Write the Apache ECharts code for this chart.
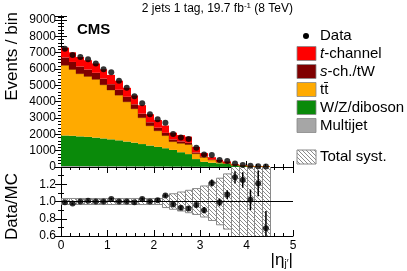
<!DOCTYPE html>
<html><head><meta charset="utf-8">
<script src="https://cdn.jsdelivr.net/npm/echarts@6/dist/echarts.min.js"></script>
<style>html,body{margin:0;padding:0;background:#fff}#c{width:407px;height:271px}</style>
</head><body><div id="c"></div>
<script>
// ---- data ----
const binEdges = [0, 0.1667, 0.3333, 0.5, 0.6667, 0.8333, 1, 1.1667, 1.3333, 1.5, 1.6667, 1.8333, 2, 2.1667, 2.3333, 2.5, 2.6667, 2.8333, 3, 3.1667, 3.3333, 3.5, 3.6667, 3.8333, 4, 4.1667, 4.3333, 4.5];
const multijet = [60,60,55,55,50,50,45,45,40,40,35,35,30,30,25,25,20,15,12,10,8,6,5,3,2,1,1];
const wzDiboson = [1870,1850,1820,1790,1750,1700,1650,1590,1520,1450,1370,1280,1200,1120,1020,880,770,470,305,250,220,190,100,60,35,20,18];
const ttbar = [4300,4065,3840,3705,3570,3285,3020,2765,2435,2075,1615,1210,990,775,510,545,585,330,278,168,70,28,7,4,8,5,4];
const sChTW = [480,460,440,420,400,380,355,330,305,275,245,215,185,165,135,115,105,75,45,32,22,16,8,5,3,2,1];
const tChannel = [600,590,580,570,570,570,570,560,550,540,520,490,470,450,410,390,380,340,210,140,120,100,45,28,20,12,12];
const dataCounts = [7237,6856,6735,6605,6340,5985,5809,5290,4850,4336,3899,3230,2918,2718,2027,1812,1711,1181,765,729,436,367,211,125,69,48,25];
const ratio = [0.99,0.976,1.0,1.01,1.0,1.0,1.03,1.0,1.0,0.99,1.03,1.0,1.015,1.07,0.965,0.927,0.92,0.96,0.9,1.215,0.99,1.08,1.28,1.25,1.02,1.21,0.69];
const ratioErr = [0.012,0.012,0.012,0.012,0.013,0.013,0.013,0.014,0.015,0.016,0.017,0.018,0.02,0.021,0.023,0.025,0.026,0.03,0.036,0.04,0.045,0.05,0.07,0.09,0.12,0.15,0.2];
const systRel = [0.035,0.035,0.035,0.035,0.035,0.035,0.035,0.035,0.035,0.035,0.035,0.035,0.035,0.07,0.09,0.11,0.13,0.15,0.18,0.22,0.27,0.32,0.6,0.6,0.6,0.6,0.6];
const ratioTicks = [0.6,0.8,1.0,1.2];

// ---- build ----
const nb = binEdges.length - 1;
const comps = [
  {name:'Multijet', vals:multijet, color:'#a6a6a6', edge:null},
  {name:'W/Z/diboson', vals:wzDiboson, color:'#0a8a0a', edge:null},
  {name:'tt', vals:ttbar, color:'#ffaa00', edge:'#c27a00'},
  {name:'s-ch./tW', vals:sChTW, color:'#800000', edge:null},
  {name:'t-channel', vals:tChannel, color:'#ff0000', edge:null}
];
const cum = new Array(nb).fill(0);
const stackSeries = comps.map((c, ci) => {
  const items = [];
  for (let i = 0; i < nb; i++) {
    const b = cum[i], t = b + c.vals[i];
    items.push([binEdges[i], binEdges[i+1], b, t]);
    cum[i] = t;
  }
  const tops = items.map(d => d[3]);
  return {
    type:'custom', name:c.name, xAxisIndex:0, yAxisIndex:0, clip:true, z:2+ci,
    data: items,
    renderItem(params, api) {
      const i = params.dataIndex;
      const p0 = api.coord([api.value(0), api.value(3)]);
      const p1 = api.coord([api.value(1), api.value(2)]);
      const x0 = Math.round(p0[0]), x1 = Math.round(p1[0]);
      const children = [{type:'rect', shape:{x:x0, y:p0[1], width:x1-x0, height:p1[1]-p0[1]}, style:{fill:c.color}}];
      if (c.edge) {
        children.push({type:'line', shape:{x1:x0, y1:p0[1], x2:x1, y2:p0[1]}, style:{stroke:c.edge, lineWidth:1}});
        if (i > 0) {
          const pp = api.coord([api.value(0), tops[i-1]]);
          children.push({type:'line', shape:{x1:x0, y1:pp[1], x2:x0, y2:p0[1]}, style:{stroke:c.edge, lineWidth:1}});
        }
      }
      return {type:'group', children};
    }
  };
});

const centers = [];
for (let i = 0; i < nb; i++) centers.push((binEdges[i] + binEdges[i+1]) / 2);

// hatch pattern
const pc = document.createElement('canvas'); pc.width = 4; pc.height = 4;
const g = pc.getContext('2d');
g.fillStyle = '#ffffff'; g.fillRect(0,0,4,4);
g.strokeStyle = '#8a8a8a'; g.lineWidth = 1;
g.beginPath(); g.moveTo(-1,-1); g.lineTo(5,5); g.moveTo(-1,3); g.lineTo(1,5); g.moveTo(3,-1); g.lineTo(5,1); g.stroke();
const hatch = {image: pc, repeat: 'repeat'};

const font = 'Liberation Sans, Arial, Helvetica, sans-serif';
const axisLine = {show:true, lineStyle:{color:'#000', width:1}};
function xAx(grid, pos, labels) {
  return {type:'value', gridIndex:grid, position:pos, min:0, max:5, interval:1,
    axisLine, splitLine:{show:false},
    axisTick:{show:true, inside:true, length:6, lineStyle:{color:'#000'}},
    minorTick:{show:true, splitNumber:5, length:3, lineStyle:{color:'#000'}},
    axisLabel:{show:labels, color:'#000', fontSize:12, fontFamily:font, margin:4}};
}
function yAx(grid, pos, labels, min, max, interval, minor, fmt) {
  return {type:'value', gridIndex:grid, position:pos, min, max, interval,
    axisLine, splitLine:{show:false},
    axisTick:{show:true, inside:true, length:6, lineStyle:{color:'#000'}},
    minorTick:{show:true, splitNumber:minor, length:3, lineStyle:{color:'#000'}},
    axisLabel:{show:labels, color:'#000', fontSize:12, fontFamily:font, margin:5, formatter:fmt}};
}

const legendY = [36, 53.5, 71.5, 89.5, 107.5, 125.5, 157];
const legendItems = [
  {color:'#ff0000', text:'{i|t}-channel'},
  {color:'#800000', text:'{i|s}-ch./tW'},
  {color:'#ffaa00', text:'tt\u0304'},
  {color:'#0a8a0a', text:'W/Z/diboson'},
  {color:'#a6a6a6', text:'Multijet'}
];
const graphics = [];
graphics.push({type:'circle', shape:{cx:306, cy:legendY[0], r:3}, style:{fill:'#000'}});
graphics.push({type:'text', x:320, y:legendY[0], style:{text:'Data', font:'15px '+font, fill:'#000', textVerticalAlign:'middle'}});
legendItems.forEach((it, k) => {
  const y = legendY[k+1];
  graphics.push({type:'rect', shape:{x:297, y:y-7, width:19, height:14}, style:{fill:it.color, stroke:'#888', lineWidth:0.8}});
  graphics.push({type:'text', x:320, y:y, style:{text:it.text, rich:{i:{fontStyle:'italic', fontSize:15, fontFamily:font}}, font:'15px '+font, fill:'#000', textVerticalAlign:'middle'}});
});
graphics.push({type:'rect', shape:{x:297, y:legendY[6]-7, width:19, height:14}, style:{fill:hatch, stroke:'#888', lineWidth:1}});
graphics.push({type:'text', x:320, y:legendY[6], style:{text:'Total syst.', font:'15px '+font, fill:'#000', textVerticalAlign:'middle'}});
// titles
graphics.push({type:'text', x:293, y:9, style:{text:'2 jets 1 tag, 19.7 fb{s|-1} (8 TeV)', rich:{s:{fontSize:8, verticalAlign:'top', padding:[0,0,6,0], fontFamily:font}}, font:'12px '+font, fill:'#000', textAlign:'right', textVerticalAlign:'middle'}});
graphics.push({type:'text', x:77, y:30, style:{text:'CMS', font:'bold 15px '+font, fill:'#000', textVerticalAlign:'middle'}});
graphics.push({type:'text', x:12, y:12, rotation:Math.PI/2, style:{text:'Events / bin', font:'17px '+font, fill:'#000', textAlign:'right', textVerticalAlign:'middle'}});
graphics.push({type:'text', x:12, y:173, rotation:Math.PI/2, style:{text:'Data/MC', font:'17px '+font, fill:'#000', textAlign:'right', textVerticalAlign:'middle'}});
graphics.push({type:'text', x:293, y:260, style:{text:'|\u03b7{s|j\u2032}|', rich:{s:{fontSize:10, padding:[8,0,0,0], fontFamily:font}}, font:'17px '+font, fill:'#000', textAlign:'right', textVerticalAlign:'middle'}});

const chart = echarts.init(document.getElementById('c'), null, {renderer:'canvas'});
chart.setOption({
  animation:false,
  backgroundColor:'#fff',
  grid:[
    {left:61, right:114, top:16, height:151},
    {left:61, right:114, top:167, height:69}
  ],
  xAxis:[xAx(0,'bottom',false), xAx(0,'top',false), xAx(1,'bottom',true), xAx(1,'top',false)],
  yAxis:[
    yAx(0,'left',true,0,9250,1000,5,v => (v % 1000 === 0 ? String(v) : '')),
    yAx(0,'right',false,0,9250,1000,5),
    yAx(1,'left',true,0.6,1.4,0.2,2,v => (ratioTicks.some(t => Math.abs(t-v) < 1e-6) ? v.toFixed(1) : '')),
    yAx(1,'right',false,0.6,1.4,0.2,2)
  ],
  graphic: graphics,
  series: [
    ...stackSeries,
    {type:'scatter', xAxisIndex:0, yAxisIndex:0, z:10, symbol:'circle', symbolSize:6, itemStyle:{color:'#000'},
      data: centers.map((c,i) => [c, dataCounts[i]])},
    {type:'custom', xAxisIndex:2, yAxisIndex:2, clip:true, z:3,
      data: binEdges.slice(0,-1).map((lo,i) => [lo, binEdges[i+1], 1 - systRel[i], 1 + systRel[i]]),
      renderItem(params, api) {
        const p0 = api.coord([api.value(0), api.value(3)]);
        const p1 = api.coord([api.value(1), api.value(2)]);
        return {type:'rect', shape:{x:Math.round(p0[0])+0.5, y:p0[1], width:Math.round(p1[0])-Math.round(p0[0]), height:p1[1]-p0[1]}, style:{fill:hatch, stroke:'#8a8a8a', lineWidth:1}};
      }},
    {type:'line', xAxisIndex:2, yAxisIndex:2, z:5, symbol:'none', lineStyle:{color:'#000', width:1}, data:[[0,1],[5,1]]},
    {type:'custom', xAxisIndex:2, yAxisIndex:2, clip:true, z:6,
      data: centers.map((c,i) => [c, ratio[i] - ratioErr[i], ratio[i] + ratioErr[i]]),
      renderItem(params, api) {
        const a = api.coord([api.value(0), api.value(1)]);
        const b = api.coord([api.value(0), api.value(2)]);
        return {type:'line', shape:{x1:a[0], y1:a[1], x2:b[0], y2:b[1]}, style:{stroke:'#000', lineWidth:1.5}};
      }},
    {type:'scatter', xAxisIndex:2, yAxisIndex:2, z:7, symbol:'circle', symbolSize:6, itemStyle:{color:'#000'},
      data: centers.map((c,i) => [c, ratio[i]])}
  ]
});
</script></body></html>
